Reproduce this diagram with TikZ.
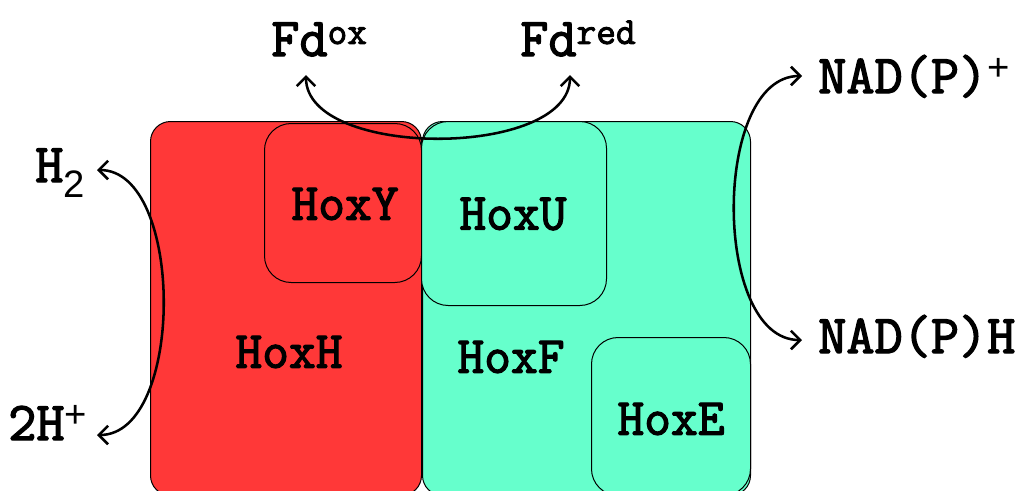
\documentclass[tikz,border=0pt]{standalone}
\usepackage{fontspec}
\newfontfamily\courb{Latin Modern Mono}[FakeBold=2.5]
\newfontfamily\supfont{Liberation Sans}
\usetikzlibrary{arrows.meta}
\definecolor{hred}{RGB}{255,56,56}
\definecolor{hgreen}{RGB}{102,255,204}
\begin{document}
\begin{tikzpicture}[x=0.75pt,y=-0.75pt,
  bigbox/.style={draw=black,line width=0.75pt,rounded corners=15pt,inner sep=0pt,anchor=north west},
  smallbox/.style={draw=black,line width=0.75pt,rounded corners=20pt,inner sep=0pt,anchor=north west},
  lab/.style={font=\fontsize{39}{44}\selectfont\courb,inner sep=0pt},
  outlab/.style={font=\fontsize{41}{44}\selectfont\courb,inner sep=0pt,anchor=base west},
  arr/.style={line width=1.9pt,{Straight Barb[length=7pt,width=14pt]}-{Straight Barb[length=7pt,width=14pt]}}]
\clip (0,0) rectangle (1026,490);
\fill[white] (0,0) rectangle (1026,490);
% boxes
\node[bigbox,fill=hred,minimum width=203.25pt,minimum height=280.5pt] (boxH) at (150,121) {};
\node[bigbox,fill=hgreen,minimum width=246pt,minimum height=280.5pt] (boxF) at (422,121) {};
\node[smallbox,fill=hred,minimum width=117.75pt,minimum height=119.25pt] (boxY) at (264,123) {};
\node[smallbox,fill=hgreen,minimum width=138.75pt,minimum height=138pt] (boxU) at (421,121) {};
\node[smallbox,fill=hgreen,minimum width=119.25pt,minimum height=118.5pt] (boxE) at (591,337) {};
% labels
\node[lab] (hoxY) at (345,204) {HoxY};
\node[lab] (hoxU) at (513,214) {HoxU};
\node[lab] (hoxH) at (289,352) {HoxH};
\node[lab] (hoxF) at (511,357) {HoxF};
\node[lab] (hoxE) at (671,419) {HoxE};
% outer labels
\node[outlab] (fdox) at (271,56) {Fd\textsuperscript{ox}};
\node[outlab] (fdred) at (520,56) {Fd\textsuperscript{red}};
\node[outlab] (h2) at (35,182) {H\textsubscript{\supfont 2}};
\node[outlab] (hplus) at (8,440) {2H\textsuperscript{\supfont +}};
\node[outlab] (nadp) at (818,93) {NAD(P)\textsuperscript{\supfont +}};
\node[outlab] (nadh) at (818,353) {NAD(P)H};
% arrow ends
\coordinate (h2tip) at (97,170);
\coordinate (hptip) at (97,435);
\coordinate (fdoxtip) at (306,75);
\coordinate (fdredtip) at (570,75);
\coordinate (nadptip) at (802,76);
\coordinate (nadhtip) at (802,340);
% arrows
\draw[arr] (h2tip) .. controls (185,170) and (185,435) .. (hptip);
\draw[arr] (fdoxtip) .. controls (306,159) and (570,159) .. (fdredtip);
\draw[arr] (nadptip) .. controls (712,76) and (712,340) .. (nadhtip);
\end{tikzpicture}
\end{document}
